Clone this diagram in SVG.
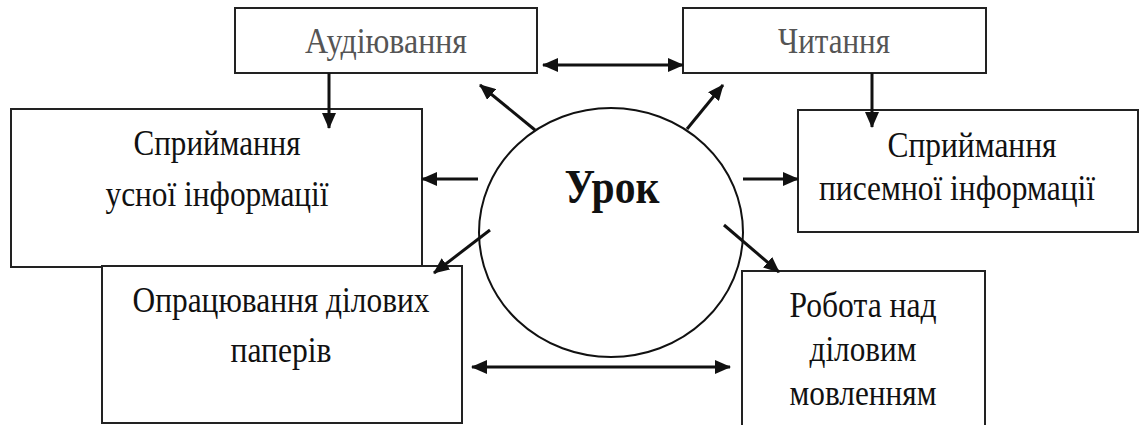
<svg xmlns="http://www.w3.org/2000/svg" width="1140" height="425" viewBox="0 0 1140 425">
<defs>
<style>
.box{fill:#fff;stroke:#222;stroke-width:2}
.t{font-family:"Liberation Serif","Times New Roman",serif;font-size:36px;fill:#111;text-anchor:middle}
.g{fill:#555}
.b{font-weight:bold;font-size:48px}
.c{stroke:#111;stroke-width:3;fill:none}
</style>
<marker id="ah" viewBox="0 0 16 14" refX="15" refY="7" markerWidth="16" markerHeight="14" markerUnits="userSpaceOnUse" orient="auto-start-reverse">
<path d="M0,0 L16,7 L0,14 Z" fill="#111"/>
</marker>
</defs>
<rect width="1140" height="425" fill="#fff"/>
<g id="node-audiuvannia">
<rect class="box" x="235" y="8" width="302" height="65"/>
<text class="t g" x="386" y="53" textLength="162" lengthAdjust="spacingAndGlyphs">Аудіювання</text>
</g>
<g id="node-chytannia">
<rect class="box" x="683" y="8" width="303" height="65"/>
<text class="t g" x="834" y="53" textLength="112" lengthAdjust="spacingAndGlyphs">Читання</text>
</g>
<g id="node-usna">
<rect class="box" x="11" y="109" width="411" height="158"/>
<text class="t" x="217" y="155" textLength="167" lengthAdjust="spacingAndGlyphs">Сприймання</text>
<text class="t" x="217" y="206" textLength="223" lengthAdjust="spacingAndGlyphs">усної інформації</text>
</g>
<g id="node-pysemna">
<rect class="box" x="798" y="110" width="340" height="122"/>
<text class="t" x="972" y="157" textLength="169" lengthAdjust="spacingAndGlyphs">Сприймання</text>
<text class="t" x="957" y="200" textLength="276" lengthAdjust="spacingAndGlyphs">писемної інформації</text>
</g>
<g id="node-paperiv">
<rect class="box" x="102" y="266" width="360" height="157"/>
<text class="t" x="281" y="312" textLength="297" lengthAdjust="spacingAndGlyphs">Опрацювання ділових</text>
<text class="t" x="281" y="362" textLength="101" lengthAdjust="spacingAndGlyphs">паперів</text>
</g>
<g id="node-robota">
<rect class="box" x="742" y="271" width="243" height="170"/>
<text class="t" x="863" y="317" textLength="147" lengthAdjust="spacingAndGlyphs">Робота над</text>
<text class="t" x="863" y="361" textLength="107" lengthAdjust="spacingAndGlyphs">діловим</text>
<text class="t" x="863" y="405" textLength="147" lengthAdjust="spacingAndGlyphs">мовленням</text>
</g>
<g id="node-urok">
<ellipse cx="611" cy="232.5" rx="132" ry="124.5" fill="none" stroke="#111" stroke-width="2"/>
<text class="t b" x="612" y="203" textLength="95" lengthAdjust="spacingAndGlyphs">Урок</text>
</g>
<g id="connectors">
<line class="c" x1="329" y1="73" x2="329" y2="128" marker-end="url(#ah)"/>
<line class="c" x1="872" y1="73" x2="872" y2="127" marker-end="url(#ah)"/>
<line class="c" x1="543" y1="65" x2="683" y2="65" marker-start="url(#ah)" marker-end="url(#ah)"/>
<line class="c" x1="535" y1="130" x2="480" y2="85" marker-end="url(#ah)"/>
<line class="c" x1="687" y1="129" x2="723" y2="85" marker-end="url(#ah)"/>
<line class="c" x1="478" y1="179" x2="422" y2="179" marker-end="url(#ah)"/>
<line class="c" x1="743" y1="179" x2="798" y2="179" marker-end="url(#ah)"/>
<line class="c" x1="490" y1="230" x2="434" y2="273" marker-end="url(#ah)"/>
<line class="c" x1="724" y1="225" x2="779" y2="272" marker-end="url(#ah)"/>
<line class="c" x1="472" y1="367" x2="730" y2="367" marker-start="url(#ah)" marker-end="url(#ah)"/>
</g>
</svg>
